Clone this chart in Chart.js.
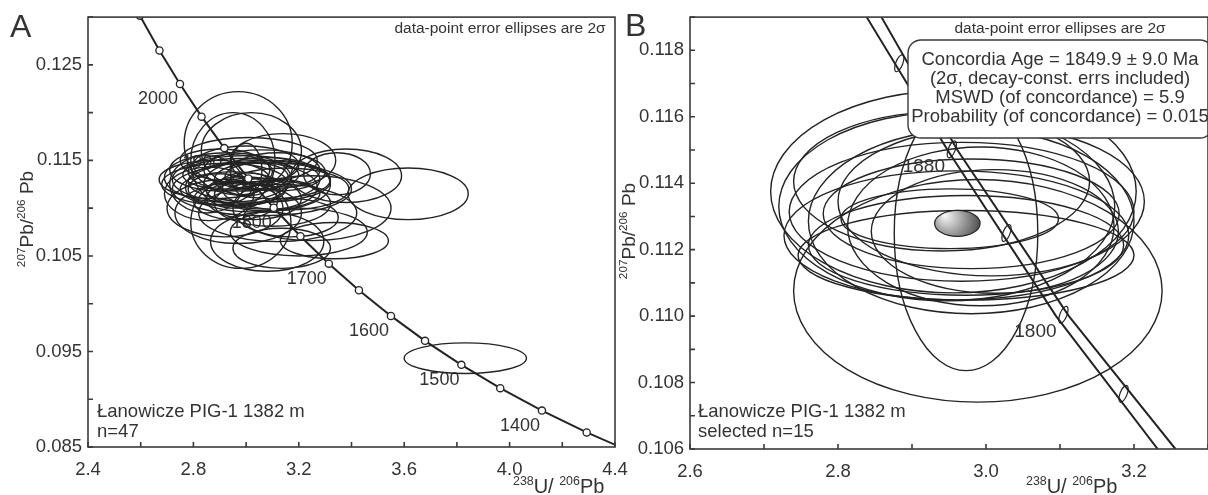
<!DOCTYPE html>
<html lang="en">
<head>
<meta charset="utf-8">
<style>
    body {
        margin: 0;
        width: 1208px;
        height: 495px;
        overflow: hidden;
        position: relative;
        background-color: #fff;
    }
    canvas {
        position: absolute;
        top: 0;
    }
    #panelA { left: 0; }
    #panelB { left: 600px; }
</style>
</head>
<body>

<!-- two concordia panels, side by side -->
<canvas id="panelA" width="660" height="495"></canvas>
<canvas id="panelB" width="620" height="495"></canvas>

<script src="https://cdn.jsdelivr.net/npm/chart.js"></script>
<script>
    // ---- Panel A: all analyses (n=47) ----
    const ellXA = [2.970, 3.615, 3.832, 3.020, 2.950, 2.880, 2.920, 3.000, 3.050, 3.100,
                   2.950, 2.980, 3.020, 3.080, 3.380, 3.345, 3.120, 2.980, 3.080, 3.335,
                   3.135, 3.250, 2.920, 2.860, 2.900, 2.940, 3.000, 3.060, 3.120, 2.990,
                   3.030, 2.960, 3.080, 2.930, 3.150, 3.000, 3.040, 2.900, 3.100, 2.970,
                   3.170, 3.200, 2.850, 3.010, 3.140, 3.000, 3.060];
    const ellYA = [0.1168, 0.1115, 0.0943, 0.1160, 0.1150, 0.1130, 0.1125, 0.1130, 0.1128, 0.1130,
                   0.1120, 0.1135, 0.1122, 0.1125, 0.1134, 0.1136, 0.1095, 0.1085, 0.1065, 0.1066,
                   0.1058, 0.1100, 0.1100, 0.1115, 0.1140, 0.1138, 0.1145, 0.1140, 0.1138, 0.1118,
                   0.1110, 0.1108, 0.1115, 0.1132, 0.1120, 0.1125, 0.1133, 0.1120, 0.1105, 0.1095,
                   0.1090, 0.1075, 0.1125, 0.1150, 0.1150, 0.1140, 0.1120];
    const ellSXA = [0.205, 0.228, 0.232, 0.190, 0.160, 0.210, 0.240, 0.280, 0.270, 0.220,
                    0.200, 0.220, 0.250, 0.240, 0.210, 0.127, 0.300, 0.190, 0.215, 0.205,
                    0.185, 0.300, 0.220, 0.170, 0.190, 0.160, 0.200, 0.220, 0.180, 0.140,
                    0.180, 0.160, 0.200, 0.240, 0.240, 0.100, 0.120, 0.120, 0.220, 0.240,
                    0.180, 0.260, 0.140, 0.260, 0.200, 0.060, 0.340];
    const ellSYA = [0.0054, 0.0027, 0.0016, 0.0040, 0.0050, 0.0020, 0.0022, 0.0025, 0.0022, 0.0020,
                    0.0018, 0.0017, 0.0026, 0.0028, 0.0028, 0.0022, 0.0030, 0.0048, 0.0031, 0.0019,
                    0.0021, 0.0034, 0.0030, 0.0028, 0.0022, 0.0018, 0.0020, 0.0021, 0.0020, 0.0015,
                    0.0022, 0.0020, 0.0016, 0.0026, 0.0022, 0.0012, 0.0014, 0.0016, 0.0024, 0.0032,
                    0.0020, 0.0025, 0.0030, 0.0024, 0.0028, 0.0028, 0.0028];

    // concordia curve, 50 Ma markers
    const concAgesA = [1300, 1350, 1400, 1450, 1500, 1550, 1600, 1650, 1700, 1750, 1800, 1850, 1900, 1950, 2000, 2050, 2100];
    const concXA = [4.4756, 4.2926, 4.1227, 3.9645, 3.8170, 3.6790, 3.5497, 3.4282, 3.3139, 3.2062,
                    3.1046, 3.0084, 2.9174, 2.8310, 2.7490, 2.6711, 2.5968];
    const concYA = [0.08432, 0.08653, 0.08881, 0.09116, 0.09360, 0.09611, 0.09872, 0.10141, 0.10419, 0.10706,
                    0.11004, 0.11311, 0.11629, 0.11958, 0.12299, 0.12651, 0.13015];
    const labelAgesA = [1400, 1500, 1600, 1700, 1800, 1900, 2000];

    const xTicksA = [2.4, 2.6, 2.8, 3.0, 3.2, 3.4, 3.6, 3.8, 4.0, 4.2, 4.4];
    const xLabelsA = ['2.4', '2.8', '3.2', '3.6', '4.0', '4.4'];
    const yTicksA = [0.085, 0.090, 0.095, 0.100, 0.105, 0.110, 0.115, 0.120, 0.125, 0.130];
    const yLabelsA = ['0.085', '0.095', '0.105', '0.115', '0.125'];

    // ---- Panel B: selected analyses (n=15) ----
    const ellXB = [2.989, 2.973, 2.956, 2.947, 2.980, 2.967, 2.980, 2.960, 2.951, 2.973, 2.993, 2.940, 3.007, 2.973, 3.012];
    const ellYB = [0.11076, 0.11249, 0.11375, 0.11330, 0.11285, 0.11314, 0.11308, 0.11243, 0.11293, 0.11213,
                   0.11270, 0.11405, 0.11345, 0.11183, 0.11255];
    const ellSXB = [0.249, 0.097, 0.247, 0.227, 0.220, 0.233, 0.200, 0.233, 0.147, 0.213, 0.180, 0.200, 0.207, 0.227, 0.167];
    const ellSYB = [0.00335, 0.00413, 0.00305, 0.00284, 0.00278, 0.00209, 0.00165, 0.00194, 0.00090, 0.00150,
                    0.00239, 0.00209, 0.00224, 0.00135, 0.00186];

    // concordia band (decay-constant errors) and 40 Ma markers
    const bandY = [0.119, 0.115, 0.110, 0.106];
    const bandLeftX = [2.8387, 2.9480, 3.0947, 3.2320];
    const bandRightX = [2.8587, 2.9613, 3.1120, 3.2560];
    const markAgesB = [1960, 1920, 1880, 1840, 1800, 1760, 1720];
    const markXB = [2.8146, 2.8828, 2.9538, 3.0277, 3.1046, 3.1859, 3.2709];
    const markYB = [0.12026, 0.11761, 0.11502, 0.11250, 0.11004, 0.10766, 0.10534];
    const labelAgesB = [1880, 1800];

    // concordia age ellipse
    const ageXY = [2.9613, 0.11279];
    const ageErr = [0.0307, 0.00039];
    const ageText = [
        'Concordia Age = 1849.9 \u00b1 9.0 Ma',
        '(2\u03c3, decay-const. errs included)',
        'MSWD (of concordance) = 5.9',
        'Probability (of concordance) = 0.015'
    ];

    const xTicksB = [2.6, 2.7, 2.8, 2.9, 3.0, 3.1, 3.2, 3.3];
    const xLabelsB = ['2.6', '2.8', '3.0', '3.2'];
    const yTicksB = [0.106, 0.107, 0.108, 0.109, 0.110, 0.111, 0.112, 0.113, 0.114, 0.115, 0.116, 0.117, 0.118, 0.119];
    const yLabelsB = ['0.106', '0.108', '0.110', '0.112', '0.114', '0.116', '0.118'];

    const FONT = "'Liberation Sans', Arial, sans-serif";
    const INK = '#232323';
    const TEXT = '#333';

    function toPoints(xs, ys) {
        return xs.map((x, i) => ({ x: x, y: ys[i] }));
    }

    function toEllipses(xs, ys, sx, sy) {
        return xs.map((x, i) => ({ x: x, y: ys[i], sx: sx[i], sy: sy[i] }));
    }

    // linear axis with fixed ticks, labels only on some of them
    function axis(pos, min, max, ticks, labels, digits, size, pad) {
        return {
            type: 'linear',
            position: pos,
            min: min,
            max: max,
            grid: { display: false, drawTicks: false },
            border: { display: false },
            afterBuildTicks: s => { s.ticks = ticks.map(v => ({ value: v })); },
            afterFit: s => {
                if (pos === 'bottom') s.height = size;
                else s.width = size;
            },
            ticks: {
                autoSkip: false,
                maxRotation: 0,
                padding: pad,
                color: TEXT,
                font: { family: FONT, size: 18.5 },
                callback: v => labels.includes(v.toFixed(digits)) ? v.toFixed(digits) : ''
            }
        };
    }

    // box round the plot and inward tick marks
    const framePlugin = {
        id: 'frame',
        afterDraw(chart) {
            const { ctx, chartArea: a, scales: { x, y } } = chart;
            ctx.save();
            ctx.strokeStyle = '#3a3a3a';
            ctx.lineWidth = 1.6;
            ctx.strokeRect(a.left, a.top, a.right - a.left, a.bottom - a.top);
            ctx.beginPath();
            x.ticks.forEach(t => {
                const px = x.getPixelForValue(t.value);
                ctx.moveTo(px, a.bottom);
                ctx.lineTo(px, a.bottom - 5);
            });
            y.ticks.forEach(t => {
                const py = y.getPixelForValue(t.value);
                ctx.moveTo(a.left, py);
                ctx.lineTo(a.left + 5, py);
            });
            ctx.stroke();
            ctx.restore();
        }
    };

    function drawEllipses(chart, data, width) {
        const { ctx, chartArea: a, scales: { x, y } } = chart;
        ctx.save();
        ctx.beginPath();
        ctx.rect(a.left, a.top, a.right - a.left, a.bottom - a.top);
        ctx.clip();
        ctx.strokeStyle = INK;
        ctx.lineWidth = width;
        data.forEach(e => {
            const cx = x.getPixelForValue(e.x);
            const cy = y.getPixelForValue(e.y);
            const rx = Math.abs(x.getPixelForValue(e.x + e.sx) - cx);
            const ry = Math.abs(y.getPixelForValue(e.y + e.sy) - cy);
            ctx.beginPath();
            ctx.ellipse(cx, cy, rx, ry, 0, 0, Math.PI * 2);
            ctx.stroke();
        });
        ctx.restore();
    }

    // text with superscript parts, e.g. 207Pb/206Pb
    function richText(ctx, parts, x, y, size, align) {
        const sup = size * 0.62;
        let w = 0;
        parts.forEach(p => {
            ctx.font = (p.sup ? sup : size) + 'px ' + FONT;
            w += ctx.measureText(p.t).width;
        });
        let cx = align === 'center' ? x - w / 2 : x;
        ctx.textAlign = 'left';
        ctx.textBaseline = 'alphabetic';
        parts.forEach(p => {
            ctx.font = (p.sup ? sup : size) + 'px ' + FONT;
            ctx.fillText(p.t, cx, p.sup ? y - size * 0.4 : y);
            cx += ctx.measureText(p.t).width;
        });
    }

    const yTitle = [{ t: '207', sup: true }, { t: 'Pb/' }, { t: '206', sup: true }, { t: ' Pb' }];
    const xTitle = [{ t: '238', sup: true }, { t: 'U/ ' }, { t: '206', sup: true }, { t: 'Pb' }];

    function drawTitles(ctx, yx, yy, xx, letter, lx, ly) {
        ctx.fillStyle = TEXT;
        ctx.save();
        ctx.translate(yx, yy);
        ctx.rotate(-Math.PI / 2);
        richText(ctx, yTitle, 0, 6, 19, 'center');
        ctx.restore();
        richText(ctx, xTitle, xx, 493, 20, 'left');
        ctx.font = '32px ' + FONT;
        ctx.textAlign = 'left';
        ctx.fillText(letter, lx, ly);
    }

    const decorA = {
        id: 'decorA',
        beforeDatasetsDraw(chart) {
            const { ctx, scales: { x, y } } = chart;
            ctx.save();
            ctx.fillStyle = TEXT;
            ctx.font = '18px ' + FONT;
            ctx.textAlign = 'center';
            ctx.textBaseline = 'middle';
            labelAgesA.forEach(age => {
                const i = concAgesA.indexOf(age);
                ctx.fillText(String(age), x.getPixelForValue(concXA[i]) - 22, y.getPixelForValue(concYA[i]) + 15);
            });
            ctx.restore();
            drawEllipses(chart, chart.data.datasets[0].data, 1.4);
        },
        afterDraw(chart) {
            const ctx = chart.ctx;
            ctx.save();
            drawTitles(ctx, 27, 219, 513, 'A', 10, 37);
            ctx.font = '15.5px ' + FONT;
            ctx.textAlign = 'center';
            ctx.fillText('data-point error ellipses are 2\u03c3', 500, 33);
            ctx.font = '18.5px ' + FONT;
            ctx.textAlign = 'left';
            ctx.fillText('\u0141anowicze PIG-1 1382 m', 97, 417);
            ctx.fillText('n=47', 97, 437);
            ctx.restore();
        }
    };

    const decorB = {
        id: 'decorB',
        beforeDatasetsDraw(chart) {
            drawEllipses(chart, chart.data.datasets[0].data, 1.4);
        },
        afterDatasetsDraw(chart) {
            const { ctx, chartArea: a, scales: { x, y } } = chart;
            ctx.save();
            ctx.beginPath();
            ctx.rect(a.left, a.top, a.right - a.left, a.bottom - a.top);
            ctx.clip();

            // age markers across the band
            ctx.strokeStyle = INK;
            ctx.lineWidth = 1.2;
            markXB.forEach((mx, i) => {
                ctx.beginPath();
                ctx.ellipse(x.getPixelForValue(mx), y.getPixelForValue(markYB[i]), 3.5, 9, 0.38, 0, Math.PI * 2);
                ctx.stroke();
            });

            // age labels
            ctx.fillStyle = TEXT;
            ctx.font = '19px ' + FONT;
            ctx.textAlign = 'center';
            ctx.textBaseline = 'middle';
            labelAgesB.forEach(age => {
                const i = markAgesB.indexOf(age);
                ctx.fillText(String(age), x.getPixelForValue(markXB[i]) - 28, y.getPixelForValue(markYB[i]) + 17);
            });

            // concordia age ellipse
            const cx = x.getPixelForValue(ageXY[0]);
            const cy = y.getPixelForValue(ageXY[1]);
            const rx = x.getPixelForValue(ageXY[0] + ageErr[0]) - cx;
            const ry = cy - y.getPixelForValue(ageXY[1] + ageErr[1]);
            const g = ctx.createRadialGradient(cx - rx * 0.55, cy - ry * 0.6, 1, cx - rx * 0.2, cy - ry * 0.2, rx * 1.25);
            g.addColorStop(0, '#f4f4f4');
            g.addColorStop(1, '#4a4a4a');
            ctx.beginPath();
            ctx.ellipse(cx, cy, rx, ry, 0, 0, Math.PI * 2);
            ctx.fillStyle = g;
            ctx.fill();
            ctx.lineWidth = 1.2;
            ctx.stroke();
            ctx.restore();

            // result box
            ctx.save();
            const bx = 308, by = 40, bw = 305, bh = 98, r = 13;
            ctx.beginPath();
            ctx.moveTo(bx + r, by);
            ctx.arcTo(bx + bw, by, bx + bw, by + bh, r);
            ctx.arcTo(bx + bw, by + bh, bx, by + bh, r);
            ctx.arcTo(bx, by + bh, bx, by, r);
            ctx.arcTo(bx, by, bx + bw, by, r);
            ctx.closePath();
            ctx.fillStyle = '#fff';
            ctx.fill();
            ctx.strokeStyle = '#3a3a3a';
            ctx.lineWidth = 1.4;
            ctx.stroke();
            ctx.fillStyle = TEXT;
            ctx.font = '18.5px ' + FONT;
            ctx.textAlign = 'center';
            ageText.forEach((line, i) => ctx.fillText(line, 460, 65 + i * 19));
            ctx.restore();
        },
        afterDraw(chart) {
            const ctx = chart.ctx;
            ctx.save();
            drawTitles(ctx, 29, 231, 426, 'B', 25, 36);
            ctx.font = '15.5px ' + FONT;
            ctx.textAlign = 'center';
            ctx.fillText('data-point error ellipses are 2\u03c3', 460, 33);
            ctx.font = '18.5px ' + FONT;
            ctx.textAlign = 'left';
            ctx.fillText('\u0141anowicze PIG-1 1382 m', 98, 417);
            ctx.fillText('selected n=15', 98, 437);
            ctx.restore();
        }
    };

    const common = {
        responsive: false,
        animation: false,
        events: [],
        plugins: { legend: { display: false }, tooltip: { enabled: false } }
    };

    new Chart(document.getElementById('panelA').getContext('2d'), {
        type: 'scatter',
        data: {
            datasets: [
                {
                    label: 'analyses',
                    data: toEllipses(ellXA, ellYA, ellSXA, ellSYA),
                    pointRadius: 0
                },
                {
                    label: 'concordia',
                    data: toPoints(concXA, concYA),
                    showLine: true,
                    borderColor: INK,
                    borderWidth: 2,
                    pointRadius: 3.6,
                    pointBackgroundColor: '#fff',
                    pointBorderColor: INK,
                    pointBorderWidth: 1.3
                }
            ]
        },
        options: Object.assign({}, common, {
            layout: { padding: { top: 13, right: 45, left: 0, bottom: 0 } },
            scales: {
                x: axis('bottom', 2.4, 4.4, xTicksA, xLabelsA, 1, 48, 12),
                y: axis('left', 0.085, 0.130, yTicksA, yLabelsA, 3, 88, 6)
            }
        }),
        plugins: [decorA, framePlugin]
    });

    new Chart(document.getElementById('panelB').getContext('2d'), {
        type: 'scatter',
        data: {
            datasets: [
                {
                    label: 'selected analyses',
                    data: toEllipses(ellXB, ellYB, ellSXB, ellSYB),
                    pointRadius: 0
                },
                {
                    label: 'band left',
                    data: toPoints(bandLeftX, bandY),
                    showLine: true,
                    borderColor: INK,
                    borderWidth: 2,
                    pointRadius: 0
                },
                {
                    label: 'band right',
                    data: toPoints(bandRightX, bandY),
                    showLine: true,
                    borderColor: INK,
                    borderWidth: 2,
                    pointRadius: 0
                }
            ]
        },
        options: Object.assign({}, common, {
            layout: { padding: { top: 14, right: 4, left: 0, bottom: 0 } },
            scales: {
                x: axis('bottom', 2.6, 3.3, xTicksB, xLabelsB, 1, 46, 12),
                y: axis('left', 0.106, 0.119, yTicksB, yLabelsB, 3, 90, 6)
            }
        }),
        plugins: [decorB, framePlugin]
    });
</script>

</body>
</html>
